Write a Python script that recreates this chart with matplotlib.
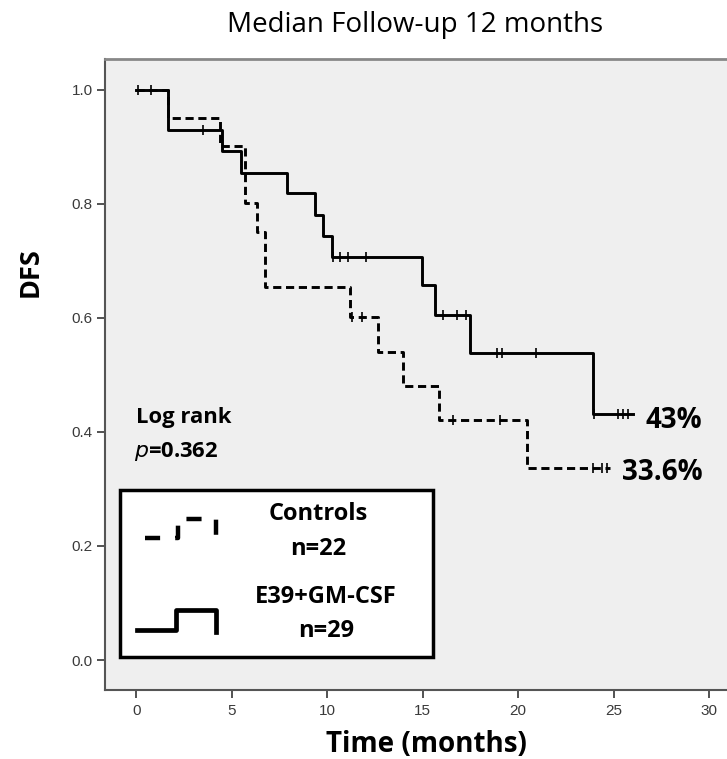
import numpy as np
import matplotlib
matplotlib.use('Agg')
import matplotlib.pyplot as plt
from matplotlib.patches import Rectangle
from matplotlib.lines import Line2D

# Kaplan-Meier steps
trt_t = [0, 1.65, 4.47, 5.46, 7.87, 9.36, 9.79, 10.26, 14.95, 15.65, 17.48, 23.94, 26.0]
trt_s = [1.0, 0.929, 0.892, 0.854, 0.819, 0.781, 0.744, 0.706, 0.658, 0.605, 0.538, 0.431, 0.431]
trt_cens = [0.1, 0.75, 3.49, 10.31, 10.67, 11.10, 12.03, 16.05, 16.81, 17.27,
            18.88, 19.14, 20.94, 24.0, 25.25, 25.5, 25.78]

ctl_t = [0, 1.65, 4.38, 5.69, 6.30, 6.73, 11.19, 12.67, 13.98, 15.87, 20.45, 24.82]
ctl_s = [1.0, 0.950, 0.901, 0.801, 0.751, 0.655, 0.602, 0.541, 0.481, 0.421, 0.336, 0.336]
ctl_cens = [11.28, 11.8, 16.6, 19.05, 23.94, 24.38, 24.64]

x_ticks = [0, 5, 10, 15, 20, 25, 30]
y_ticks = [0.0, 0.2, 0.4, 0.6, 0.8, 1.0]

W, H = 727, 759
TXT = 'Open Sans'


def fx(x):
    return x / W


def fy(y):
    return 1 - y / H


def surv_at(times, surv, t):
    i = np.searchsorted(times, t, side='right') - 1
    return np.asarray(surv)[i]


fig = plt.figure(figsize=(W / 100, H / 100), dpi=100)
ax = fig.add_axes([fx(105), fy(690), fx(728 - 105), (690 - 59) / H])
ax.set_facecolor('#efefef')
ax.set_xlim(-1.65, 31.0)
ax.set_ylim(-0.0526, 1.054)

# controls (dashed)
ln, = ax.step(ctl_t, ctl_s, where='post', color='black', lw=2.1)
ln.set_dashes((2.8, 1.6))
ax.plot(ctl_cens, surv_at(ctl_t, ctl_s, ctl_cens), ls='none', marker='|',
        ms=7, mew=1.2, color='black')

# E39+GM-CSF (solid)
ax.step(trt_t, trt_s, where='post', color='black', lw=2.1)
ax.plot(trt_cens, surv_at(trt_t, trt_s, trt_cens), ls='none', marker='|',
        ms=7, mew=1.2, color='black')

ax.set_xticks(x_ticks)
ax.set_yticks(y_ticks)
ax.set_yticklabels(['%.1f' % v for v in y_ticks])
ax.tick_params(direction='out', length=6, width=1.3, color='#444444',
               labelsize=11, labelcolor='#3a3a3a')
ax.tick_params(axis='x', pad=4)
ax.tick_params(axis='y', pad=3)
for lab in ax.get_xticklabels() + ax.get_yticklabels():
    lab.set_family('Liberation Sans')
ax.spines['right'].set_visible(False)
ax.spines['top'].set_color('#888888')
ax.spines['top'].set_linewidth(2)
for s in ['left', 'bottom']:
    ax.spines[s].set_color('#555555')
    ax.spines[s].set_linewidth(1.5)

# titles
fig.text(fx(415), fy(32), 'Median Follow-up 12 months', ha='center', va='baseline',
         fontsize=20, family=TXT)
fig.text(fx(31), fy(272), 'DFS', ha='center', va='center', rotation=90,
         fontsize=19.5, fontweight='bold', family=TXT)
fig.text(fx(426), fy(752), 'Time (months)', ha='center', va='baseline',
         fontsize=20, fontweight='bold', family=TXT)

# end percentages
fig.text(fx(645), fy(428), '43%', ha='left', va='baseline', fontsize=20,
         fontweight='bold', family=TXT)
fig.text(fx(622), fy(480), '33.6%', ha='left', va='baseline', fontsize=20,
         fontweight='bold', family=TXT)

# log rank
fig.text(fx(136), fy(423), 'Log rank', ha='left', va='baseline', fontsize=15.8,
         fontweight='bold', family=TXT)
fig.text(fx(134), fy(457), r'$\mathbf{\mathit{p}}$=0.362', ha='left', va='baseline',
         fontsize=15.8, fontweight='bold', family=TXT)

# legend box
fig.patches.append(Rectangle((fx(120), fy(656.7)), fx(432.7 - 120), (656.7 - 490) / H,
                             transform=fig.transFigure, facecolor='white',
                             edgecolor='black', lw=2.5, zorder=3))
ic1 = Line2D([fx(145), fx(178), fx(178), fx(216), fx(216)],
             [fy(538), fy(538), fy(519), fy(519), fy(545)],
             transform=fig.transFigure, color='black', lw=3.2, zorder=4)
ic1.set_dashes((3.4, 3.4))
fig.lines.append(ic1)
fig.lines.append(Line2D([fx(137), fx(176), fx(176), fx(216), fx(216)],
                        [fy(630), fy(630), fy(610), fy(610), fy(632)],
                        transform=fig.transFigure, color='black', lw=3.4, zorder=4))
for x, y, s in [(318, 520, 'Controls'), (318, 555, 'n=22'),
                (326, 603, 'E39+GM-CSF'), (326, 637, 'n=29')]:
    fig.text(fx(x), fy(y), s, ha='center', va='baseline', fontsize=17,
             fontweight='bold', family=TXT, zorder=5)

fig.savefig('out.png', dpi=100)
